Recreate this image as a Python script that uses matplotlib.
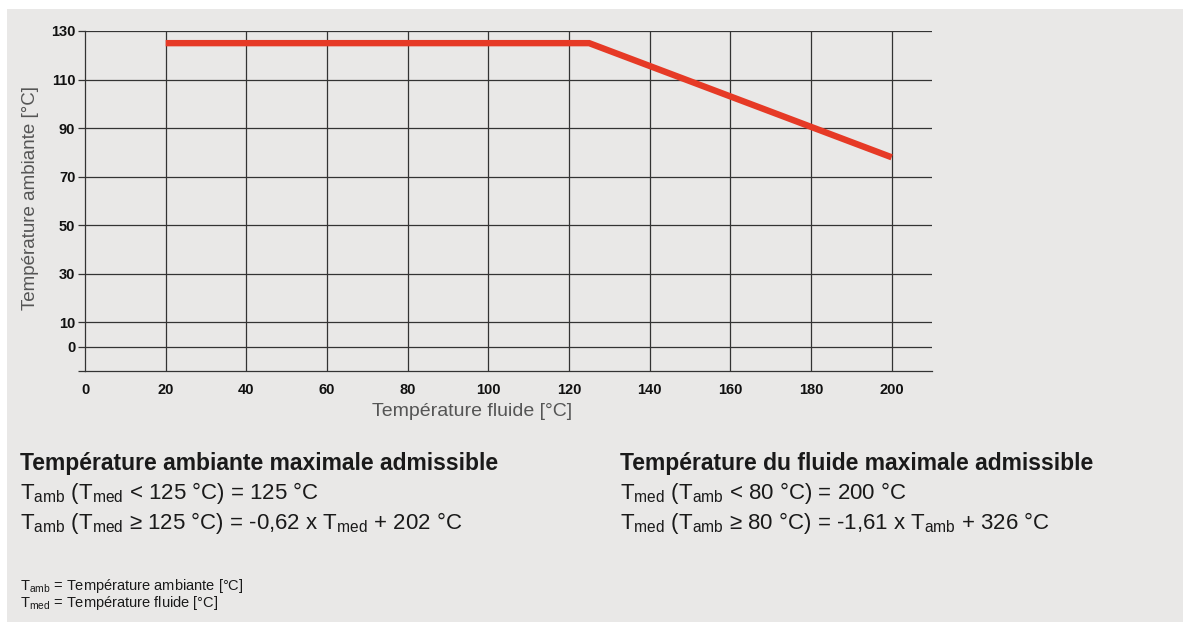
import matplotlib
matplotlib.use("Agg")
import matplotlib.pyplot as plt
from matplotlib.patches import Rectangle

plt.rcParams['font.family'] = ['Liberation Sans', 'DejaVu Sans']
plt.rcParams['mathtext.fontset'] = 'custom'
plt.rcParams['mathtext.rm'] = 'Liberation Sans'
plt.rcParams['mathtext.default'] = 'regular'

# data
fluid_temp = [20, 125, 200]
ambient_max = [125, 125, 78]
x_ticks = [0, 20, 40, 60, 80, 100, 120, 140, 160, 180, 200]
y_ticks = [0, 10, 30, 50, 70, 90, 110, 130]

W, H = 1183, 622
fig = plt.figure(figsize=(W / 100, H / 100), dpi=100)
fig.patch.set_facecolor('white')
fig.patches.append(Rectangle((7 / W, 0), 1, 1 - 9 / H, transform=fig.transFigure,
                             facecolor='#e9e8e7', edgecolor='none', zorder=-5))

ax = fig.add_axes([85 / W, 1 - 371 / H, (932 - 85) / W, (371 - 31) / H])
ax.set_zorder(2)
ax.set_facecolor('none')
ax.set_xlim(0, 210)
ax.set_ylim(-10, 130)

grid_c = '#333333'
for x in x_ticks[1:]:
    ax.axvline(x, color=grid_c, lw=0.9, zorder=1)
for y in y_ticks:
    ax.axhline(y, color=grid_c, lw=0.9, zorder=1)

ax.plot(fluid_temp, ambient_max, color='#e63a26', lw=4.6, solid_capstyle='butt',
        solid_joinstyle='miter', zorder=3)

for s in ['top', 'right']:
    ax.spines[s].set_visible(False)
for s in ['left', 'bottom']:
    ax.spines[s].set_color(grid_c)
    ax.spines[s].set_linewidth(0.9)

ax.set_xticks(x_ticks)
ax.set_xticklabels([str(v) for v in x_ticks])
ax.set_yticks(y_ticks + [-10])
ax.set_yticklabels([str(v) for v in y_ticks] + [''])
ax.tick_params(axis='x', length=0, pad=9)
ax.tick_params(axis='y', length=5, width=0.9, color=grid_c, pad=2)
for lab in ax.get_xticklabels() + ax.get_yticklabels():
    lab.set_fontweight('bold')
    lab.set_fontsize(10.5)
    lab.set_color('#111111')

ax.set_xlabel('Température fluide [°C]', fontsize=14, color='#555555')
ax.set_ylabel('Température ambiante [°C]', fontsize=13.5, color='#555555')
ax.xaxis.set_label_coords(472 / W, 1 - 412 / H, transform=fig.transFigure)
ax.xaxis.label.set_va('center')
ax.yaxis.set_label_coords(31 / W, 1 - 198 / H, transform=fig.transFigure)
ax.yaxis.label.set_va('center')

txt_c = '#1a1a1a'


def ftext(x, y, s, **kw):
    fig.text(x / W, 1 - y / H, s, color=txt_c, va='baseline', ha='left', **kw)


ftext(20, 470, 'Température ambiante maximale admissible', fontsize=16.5, fontweight='bold')
ftext(20, 499, r'T$_{amb}$ (T$_{med}$ < 125 °C) = 125 °C', fontsize=16)
ftext(20, 529, r'T$_{amb}$ (T$_{med}$ ≥ 125 °C) = -0,62 x T$_{med}$ + 202 °C', fontsize=16)

ftext(620, 470, 'Température du fluide maximale admissible', fontsize=16.5, fontweight='bold')
ftext(620, 499, r'T$_{med}$ (T$_{amb}$ < 80 °C) = 200 °C', fontsize=16)
ftext(620, 529, r'T$_{med}$ (T$_{amb}$ ≥ 80 °C) = -1,61 x T$_{amb}$ + 326 °C', fontsize=16)

ftext(20, 590, r'T$_{amb}$ = Température ambiante [°C]', fontsize=10.5)
ftext(20, 607, r'T$_{med}$ = Température fluide [°C]', fontsize=10.5)

fig.savefig('out.png', dpi=100)
